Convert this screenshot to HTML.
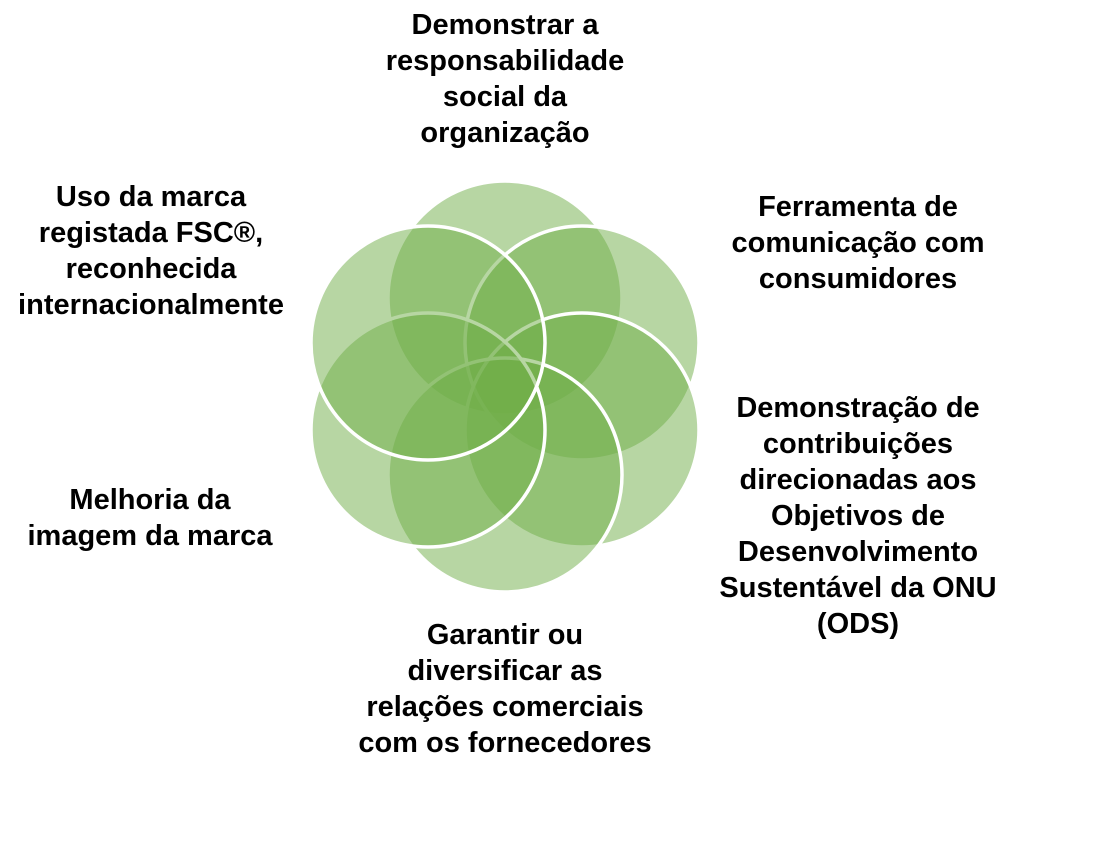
<!DOCTYPE html>
<html><head><meta charset="utf-8"><style>
body{margin:0;width:1108px;height:866px;background:#fff;position:relative;overflow:hidden;font-family:"Liberation Sans",Arial,sans-serif;}
.t{position:absolute;font-weight:bold;font-size:29px;line-height:36px;text-align:center;color:#000;white-space:nowrap;transform:translateX(-50%);}
svg{position:absolute;left:0;top:0}
</style></head><body>
<svg width="1108" height="866">
<g fill="#70AD47" fill-opacity="0.5" stroke="#fff" stroke-width="3.5">
<circle cx="505" cy="298" r="117"/>
<circle cx="582" cy="343" r="117"/>
<circle cx="582" cy="430" r="117"/>
<circle cx="505" cy="475" r="117"/>
<circle cx="428" cy="430" r="117"/>
<circle cx="428" cy="343" r="117"/>
</g>
</svg>
<div class="t" style="left:505px;top:7px">Demonstrar a<br>responsabilidade<br>social da<br>organização</div>
<div class="t" style="left:858px;top:189px">Ferramenta de<br>comunicação com<br>consumidores</div>
<div class="t" style="left:858px;top:390px">Demonstração de<br>contribuições<br>direcionadas aos<br>Objetivos de<br>Desenvolvimento<br>Sustentável da ONU<br>(ODS)</div>
<div class="t" style="left:505px;top:617px">Garantir ou<br>diversificar as<br>relações comerciais<br>com os fornecedores</div>
<div class="t" style="left:150px;top:482px">Melhoria da<br>imagem da marca</div>
<div class="t" style="left:151px;top:179px">Uso da marca<br>registada FSC®,<br>reconhecida<br>internacionalmente</div>
</body></html>
